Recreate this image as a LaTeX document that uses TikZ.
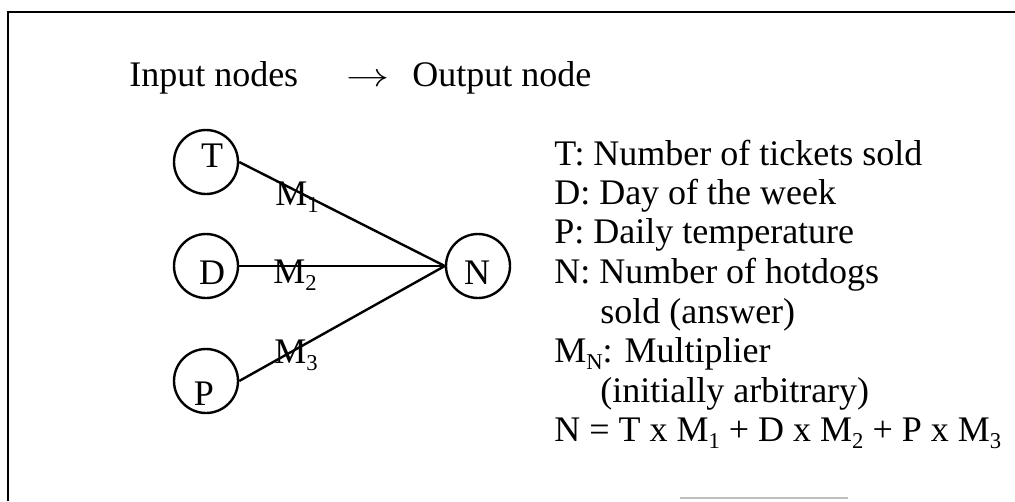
\documentclass[tikz,border=0pt]{standalone}
\usepackage{fontspec}
\setmainfont{Liberation Serif}
\newcommand{\mysub}[1]{\raisebox{-0.22em}{\fontsize{17}{17}\selectfont #1}}
\begin{document}
\begin{tikzpicture}[x=0.75pt,y=-0.75pt,
  txt/.style={font=\fontsize{27}{32}\selectfont, inner sep=0pt, anchor=base west},
  circ/.style={draw, circle, line width=1.8pt, minimum size=48pt, inner sep=0pt},
  conn/.style={line width=1.8pt},
  frame/.style={line width=1.5pt}]
\useasboundingbox (0,0) rectangle (1015,501);
% frame
\draw[frame] (8,501) -- (8,12) -- (1015,12);
\draw[gray!50, line width=1pt] (680,498) -- (848,498);
% header
\node[txt] (hin) at (129,86) {Input nodes};
\node[txt] (harr) at (346,86) {\scalebox{1.3}[1]{$\rightarrow$}};
\node[txt] (hout) at (412,86) {Output node};
% circles
\node[circ] (T) at (206,162) {};
\node[circ] (D) at (206,266) {};
\node[circ] (P) at (206,381) {};
\node[circ] (N) at (478,266) {};
\node[txt, anchor=base] (tT) at (212,167) {T};
\node[txt, anchor=base] (tD) at (212,284) {D};
\node[txt, anchor=base] (tP) at (204,405) {P};
\node[txt, anchor=base] (tN) at (477,284) {N};
% connectors
\draw[conn] (T.east) -- (N.west);
\draw[conn] (D.east) -- (N.west);
\draw[conn] (P.east) -- (N.west);
\node[txt] (m1) at (275,205) {M\mysub{1}};
\node[txt] (m2) at (273,283) {M\mysub{2}};
\node[txt] (m3) at (274,363) {M\mysub{3}};
% legend
\node[txt] (l1) at (554,165) {T: Number of tickets sold};
\node[txt] (l2) at (554,204) {D: Day of the week};
\node[txt] (l3) at (554,243) {P: Daily temperature};
\node[txt] (l4) at (554,283) {N: Number of hotdogs};
\node[txt] (l5) at (600,323) {sold (answer)};
\node[txt] (l6) at (554,362) {M\mysub{N}: Multiplier};
\node[txt] (l7) at (600,402) {(initially arbitrary)};
\node[txt] (l8) at (554,441) {N = T x M\mysub{1} + D x M\mysub{2} + P x M\mysub{3}};
\end{tikzpicture}
\end{document}
